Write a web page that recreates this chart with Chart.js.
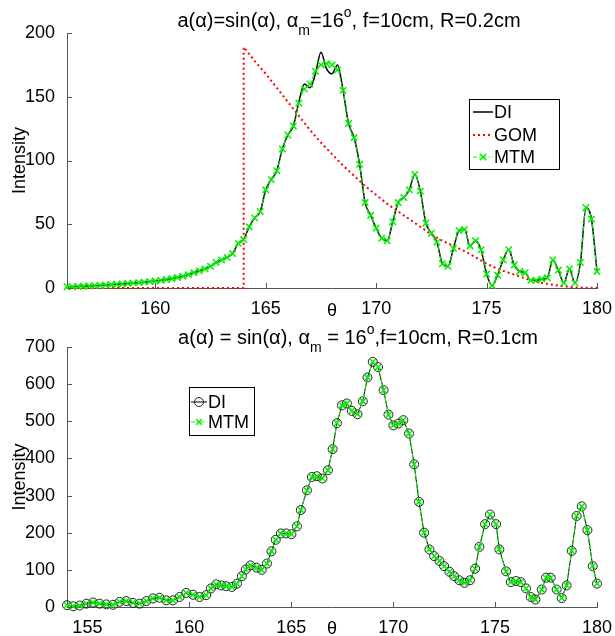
<!DOCTYPE html>
<html><head><meta charset="utf-8">
<script src="https://cdn.jsdelivr.net/npm/chart.js@4"></script>
<style>
html,body{margin:0;padding:0;background:#fff;}
#wrap{position:relative;width:615px;height:636px;overflow:hidden;}
canvas{position:absolute;left:0;}
</style></head><body>
<div id="wrap">
<canvas id="c1" width="615" height="318" style="top:0px"></canvas>
<canvas id="c2" width="615" height="318" style="top:318px"></canvas>
</div>
<script>
// ---------- DATA (top panel, R=0.2cm) ----------
const topTheta = [156,156.25,156.5,156.75,157,157.25,157.5,157.75,158,158.25,158.5,158.75,159,159.25,159.5,159.75,
160,160.25,160.5,160.75,161,161.25,161.5,161.75,162,162.25,162.5,162.75,163,163.25,163.5,163.75,
164,164.25,164.5,164.75,165,165.25,165.5,165.75,166,166.25,166.5,166.75,167,167.25,167.5,167.75,
168,168.25,168.5,168.75,169,169.25,169.5,169.75,170,170.25,170.5,170.75,171,171.25,171.5,171.75,
172,172.25,172.5,172.75,173,173.25,173.5,173.75,174,174.25,174.5,174.75,175,175.25,175.5,175.75,
176,176.25,176.5,176.75,177,177.25,177.5,177.75,178,178.25,178.5,178.75,179,179.25,179.5,179.75,180];
const diTop = [1,1,1.2,1.4,1.6,1.8,2,2.3,2.6,2.9,3.2,3.5,3.8,4.2,4.6,5,
5.5,6,6.6,7.3,8.2,9.2,10.5,12,13.5,15,17,20,22,24,27,35,
38,48,55,60,77,85,92,109,120,127,146,160,157,168,185,172,
168,175,155,129,118,97,67,57,47,39,37,52,67,71,77,89,
76,51,43,36,19,17,31,45,46,33,37,30,11,2,10,22,
30,18,13,12,6,6,7,8,22,14,4,15,4,20,63,54,13];
const mtmTop = [1,1,1.2,1.4,1.6,1.8,2,2.3,2.6,2.9,3.2,3.5,3.8,4.2,4.6,5,
5.5,6,6.6,7.3,8.2,9.2,10.5,12,13.5,15,17,20,22,24,27,35,
38,48,55,60,77,85,92,109,120,127,145,156,160,170,175,176,
175,171,155,129,118,97,67,57,47,39,37,52,67,71,77,89,
76,51,43,36,19,17,31,45,46,33,37,30,11,2,10,22,
30,18,13,12,6,6,7,8,22,14,4,15,4,20,63,54,13];
const gomTheta = [156,164,164,164.5,165,165.5,166,166.5,167,167.5,168,168.5,169,169.5,170,170.5,171,171.5,172,172.5,173,173.5,174,174.5,175,175.5,176,176.5,177,177.5,178,178.5,179,179.5,180];
const gomTop = [0,0,189,178,168,157,146,135,124,114,105,96,88,80,73,66,60,54,48,42,37,33,29,24,19,15,12,9,6,4,2.5,1.2,0.5,0.2,0];
const topXTicks = [160,165,170,175,180];
const topYTicks = [0,50,100,150,200];

// ---------- DATA (bottom panel, R=0.1cm) ----------
const botTheta = [154,154.3,154.62,154.95,155.28,155.6,155.93,156.26,156.58,156.91,157.24,157.56,157.89,158.22,158.54,158.87,159.2,159.52,159.85,
160.18,160.5,160.83,161.06,161.32,161.57,161.81,162.09,162.34,162.58,162.77,163,163.3,163.55,163.81,
164.03,164.24,164.49,164.75,165.01,165.28,165.47,165.77,166.01,166.26,166.53,166.8,167.03,167.24,167.49,167.73,167.97,
168.25,168.51,168.74,169,169.26,169.53,169.77,170.01,170.26,170.5,170.78,171.03,171.27,171.52,171.78,
172.01,172.27,172.5,172.76,172.99,173.25,173.5,173.77,174.02,174.23,174.51,174.75,175.05,175.21,175.54,175.77,
176.03,176.26,176.52,176.75,176.98,177.29,177.5,177.73,178.02,178.27,178.51,178.76,179,179.25,179.53,179.79,180];
const diBot = [5,2,4,9,12,9,7,6,14,16,11,9,16,23,25,18,18,27,38,
33,27,32,50,61,58,56,54,63,83,101,112,106,100,117,
150,181,198,198,196,217,261,314,350,352,346,368,425,495,543,548,528,
519,554,618,660,646,584,518,489,494,503,467,384,283,200,155,
137,124,110,95,83,72,65,72,103,162,223,249,223,155,96,67,
70,67,50,27,20,47,79,79,47,24,58,151,245,271,207,110,63];
const mtmBot = [5,2,4,9,12,9,7,6,14,16,11,9,16,23,25,18,18,27,38,
33,27,32,50,61,58,56,54,63,83,101,112,106,100,117,
150,181,198,198,196,217,261,314,350,352,346,368,425,495,543,548,528,
519,554,618,660,646,584,518,489,494,503,467,384,283,200,155,
137,124,110,95,83,72,65,72,103,162,223,249,223,155,96,67,
70,67,50,27,20,47,79,79,47,24,58,151,245,271,207,110,63];
const botXTicks = [155,160,165,170,175,180];
const botYTicks = [0,100,200,300,400,500,600,700];

// ---------- STYLE ----------
const FONT = "'Liberation Sans', Arial, Helvetica, sans-serif";
Chart.defaults.font.family = FONT;
Chart.defaults.color = '#000';
const GREEN = '#00ff00';
const AXIS = '#555';

function pts(xs, ys){ return xs.map((x,i)=>({x:x, y:ys[i]})); }

function drawRich(ctx, segs, cx, baseY, size){
  const small = Math.round(size*0.7);
  const widths = segs.map(s=>{ ctx.font = (s.k==='n'?size:small)+'px '+FONT; return ctx.measureText(s.t).width; });
  const total = widths.reduce((a,b)=>a+b,0);
  let x = cx - total/2;
  ctx.textAlign='left'; ctx.textBaseline='alphabetic'; ctx.fillStyle='#000';
  segs.forEach((s,i)=>{
    ctx.font = (s.k==='n'?size:small)+'px '+FONT;
    const dy = s.k==='sub' ? size*0.42 : (s.k==='sup' ? -size*0.5 : 0);
    ctx.fillText(s.t, x, baseY+dy);
    x += widths[i];
  });
}

function drawMarker(ctx, m, x, y){
  ctx.save();
  ctx.setLineDash([]);
  ctx.strokeStyle = m.color; ctx.lineWidth = m.width;
  ctx.beginPath();
  if (m.type==='x'){
    const d = m.r*0.7071;
    ctx.moveTo(x-d,y-d); ctx.lineTo(x+d,y+d);
    ctx.moveTo(x-d,y+d); ctx.lineTo(x+d,y-d);
  } else {
    ctx.arc(x,y,m.r,0,Math.PI*2);
  }
  ctx.stroke();
  ctx.restore();
}

const decoPlugin = {
  id: 'deco',
  afterDraw(chart){
    const o = chart.options.plugins.deco;
    const ctx = chart.ctx;
    const ca = chart.chartArea;
    // inward tick marks
    ctx.save();
    ctx.strokeStyle = AXIS; ctx.lineWidth = 1; ctx.setLineDash([]);
    ctx.beginPath();
    chart.scales.x.ticks.forEach(t=>{
      const px = Math.round(chart.scales.x.getPixelForValue(t.value))+0.5;
      ctx.moveTo(px, ca.bottom); ctx.lineTo(px, ca.bottom-5);
    });
    chart.scales.y.ticks.forEach(t=>{
      const py = Math.round(chart.scales.y.getPixelForValue(t.value))+0.5;
      ctx.moveTo(ca.left, py); ctx.lineTo(ca.left+5, py);
    });
    ctx.stroke();
    ctx.restore();
    // title
    ctx.save();
    drawRich(ctx, o.title, o.titleCx, o.titleY, 20);
    ctx.restore();
    // legend
    const L = o.legend;
    ctx.save();
    ctx.fillStyle='#fff'; ctx.fillRect(L.x, L.y, L.w, L.h);
    ctx.strokeStyle='#000'; ctx.lineWidth=1; ctx.setLineDash([]);
    ctx.strokeRect(L.x+0.5, L.y+0.5, L.w, L.h);
    L.items.forEach(it=>{
      ctx.save();
      ctx.strokeStyle = it.color; ctx.lineWidth = it.width; ctx.setLineDash(it.dash);
      ctx.beginPath(); ctx.moveTo(L.x0, it.y); ctx.lineTo(L.x1, it.y); ctx.stroke();
      ctx.restore();
      (it.markers||[]).forEach(m=>drawMarker(ctx, m, (L.x0+L.x1)/2, it.y));
      ctx.fillStyle='#000'; ctx.font='18px '+FONT; ctx.textAlign='left'; ctx.textBaseline='middle';
      ctx.fillText(it.label, L.tx, it.y+1);
    });
    ctx.restore();
  }
};

function makeScales(xmin, xmax, xt, ymin, ymax, yt, xh){
  return {
    x: {
      type:'linear', min:xmin, max:xmax,
      afterBuildTicks: s=>{ s.ticks = xt.map(v=>({value:v})); },
      afterFit: s=>{ s.height = xh; },
      grid:{display:false},
      border:{display:true, color:AXIS, width:1},
      ticks:{autoSkip:false, maxRotation:0, minRotation:0, padding:2, font:{size:18}, color:'#000', callback:v=>String(v)},
      title:{display:true, text:'θ', font:{size:18, lineHeight:0.8}, color:'#000', padding:{top:0,bottom:0}}
    },
    y: {
      type:'linear', min:ymin, max:ymax,
      afterBuildTicks: s=>{ s.ticks = yt.map(v=>({value:v})); },
      afterFit: s=>{ s.width = 67; },
      grid:{display:false},
      border:{display:true, color:AXIS, width:1},
      ticks:{autoSkip:false, padding:4, font:{size:18}, color:'#000', callback:v=>String(v)},
      title:{display:true, text:'Intensity', font:{size:18, lineHeight:1}, color:'#000', padding:{top:11,bottom:0}}
    }
  };
}

// ---------- TOP CHART ----------
new Chart(document.getElementById('c1'), {
  type:'line',
  data:{ datasets:[
    {label:'DI', data:pts(topTheta, diTop), borderColor:'#000', borderWidth:1.5, pointRadius:0, cubicInterpolationMode:'monotone', order:3, clip:false},
    {label:'GOM', data:pts(gomTheta, gomTop), borderColor:'#ff0000', borderWidth:2, borderDash:[2,3], pointRadius:0, tension:0, order:2, clip:false},
    {label:'MTM', data:pts(topTheta, mtmTop), borderColor:GREEN, borderWidth:1, borderDash:[5,2,1.5,2], pointStyle:'crossRot', pointRadius:4.5, pointBorderColor:'#00ee00', pointBorderWidth:1.5, cubicInterpolationMode:'monotone', order:1, clip:false}
  ]},
  options:{
    responsive:false, animation:false, devicePixelRatio:1, events:[],
    layout:{padding:{left:0, right:18, top:33, bottom:0}},
    scales: makeScales(156, 180, topXTicks, 0, 200, topYTicks, 30),
    plugins:{
      legend:{display:false}, tooltip:{enabled:false}, title:{display:false},
      deco:{
        title:[{t:'a(α)=sin(α), α',k:'n'},{t:'m',k:'sub'},{t:'=16',k:'n'},{t:'o',k:'sup'},{t:', f=10cm, R=0.2cm',k:'n'}],
        titleCx:349, titleY:27,
        legend:{x:469, y:99, w:90, h:70, x0:473, x1:493, tx:494, items:[
          {label:'DI', y:112, color:'#000', width:1.5, dash:[]},
          {label:'GOM', y:135, color:'#ff0000', width:2, dash:[2,3]},
          {label:'MTM', y:157, color:GREEN, width:1, dash:[4,2,1.5,2], markers:[{type:'x', r:4.5, color:'#00ee00', width:1.5}]}
        ]}
      }
    }
  },
  plugins:[decoPlugin]
});

// ---------- BOTTOM CHART ----------
new Chart(document.getElementById('c2'), {
  type:'line',
  data:{ datasets:[
    {label:'DI', data:pts(botTheta, diBot), borderColor:'#000', borderWidth:1, pointStyle:'circle', pointRadius:4.5, pointBorderColor:'#222', pointBorderWidth:1, pointBackgroundColor:'rgba(0,0,0,0)', tension:0, order:2, clip:false},
    {label:'MTM', data:pts(botTheta, mtmBot), borderColor:GREEN, borderWidth:1.2, borderDash:[4,2,1.5,2], pointStyle:'crossRot', pointRadius:4, pointBorderColor:'#00ee00', pointBorderWidth:1.5, tension:0, order:1, clip:false}
  ]},
  options:{
    responsive:false, animation:false, devicePixelRatio:1, events:[],
    layout:{padding:{left:0, right:18, top:29, bottom:0}},
    scales: makeScales(154, 180, botXTicks, 0, 700, botYTicks, 29),
    plugins:{
      legend:{display:false}, tooltip:{enabled:false}, title:{display:false},
      deco:{
        title:[{t:'a(α) = sin(α), α',k:'n'},{t:'m',k:'sub'},{t:' = 16',k:'n'},{t:'o',k:'sup'},{t:',f=10cm, R=0.1cm',k:'n'}],
        titleCx:358, titleY:26,
        legend:{x:189, y:69, w:65, h:48, x0:191, x1:207, tx:208, items:[
          {label:'DI', y:84, color:'#000', width:1, dash:[], markers:[{type:'o', r:4.5, color:'#222', width:1}]},
          {label:'MTM', y:104, color:GREEN, width:1.2, dash:[4,2,1.5,2], markers:[{type:'x', r:4, color:'#00ee00', width:1.5}]}
        ]}
      }
    }
  },
  plugins:[decoPlugin]
});
</script>
</body></html>
